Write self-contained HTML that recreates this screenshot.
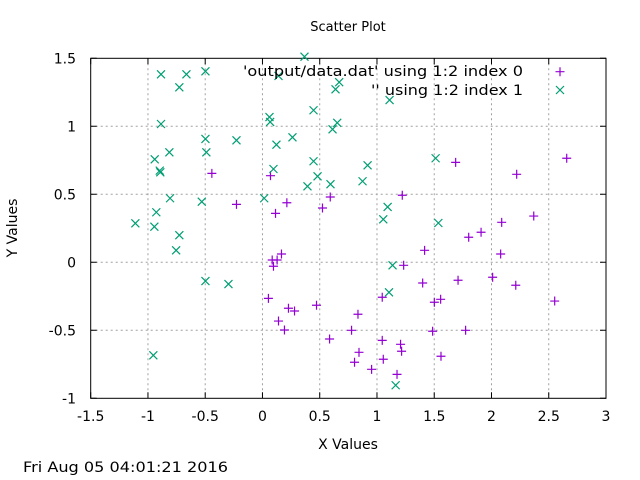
<!DOCTYPE html>
<html><head><meta charset="utf-8"><style>
body{margin:0;background:#fff}
svg{display:block;font-family:"DejaVu Sans","Liberation Sans",sans-serif}
</style></head><body>
<svg id="c" width="640" height="480">
<text x="348" y="31" font-size="13" text-anchor="middle">Scatter Plot</text>
<text x="348" y="449" font-size="14" text-anchor="middle">X Values</text>
<text transform="translate(17,228) rotate(-90)" font-size="14" text-anchor="middle">Y Values</text>
<text x="23" y="472" font-size="14" textLength="205" lengthAdjust="spacingAndGlyphs">Fri Aug 05 04:01:21 2016</text>
<g id="grid"></g>
<g id="axes"></g>
<g id="marks"></g>
<g>
<text x="243" y="76" font-size="14" textLength="280" lengthAdjust="spacingAndGlyphs">'output/data.dat' using 1:2 index 0</text>
<text x="371" y="95" font-size="14" textLength="152" lengthAdjust="spacingAndGlyphs">'' using 1:2 index 1</text>
<path d="M555.5 71.7h9M560 67.2v9" stroke="#9400d3" stroke-width="1.2"/>
<path d="M556 86l8 8M556 94l8-8" stroke="#009e73" stroke-width="1.2"/>
</g>
</svg>
<script>
const xTicks=[-1.5,-1,-0.5,0,0.5,1,1.5,2,2.5,3];
const yTicks=[-1,-0.5,0,0.5,1,1.5];
const xTickLabels=["-1.5","-1","-0.5","0","0.5","1","1.5","2","2.5","3"];
const yTickLabels=["-1","-0.5","0","0.5","1","1.5"];
const s0x=[-0.442,0.070,-0.227,0.114,0.213,0.524,0.592,1.687,2.220,2.657,1.221,2.089,2.369,0.166,0.085,0.128,0.096,0.052,0.227,0.280,0.472,0.140,0.192,0.586,1.801,1.909,1.416,2.080,1.233,1.399,1.708,2.010,2.212,1.046,1.501,1.556,2.552,0.834,0.778,1.486,1.774,1.046,1.206,0.843,1.215,0.804,1.055,1.559,0.953,1.175];
const s0y=[0.654,0.637,0.426,0.360,0.438,0.399,0.480,0.735,0.647,0.765,0.493,0.294,0.340,0.061,0.017,0.017,-0.029,-0.265,-0.338,-0.358,-0.316,-0.432,-0.498,-0.564,0.184,0.221,0.088,0.061,-0.022,-0.152,-0.132,-0.110,-0.169,-0.257,-0.294,-0.272,-0.285,-0.382,-0.500,-0.507,-0.500,-0.574,-0.603,-0.662,-0.654,-0.735,-0.713,-0.691,-0.787,-0.824];
const s1x=[-0.886,-0.664,-0.498,-0.726,0.367,0.140,0.670,0.638,0.446,0.061,0.067,-0.886,0.653,0.612,-0.498,-0.227,0.262,0.122,-0.813,-0.490,-0.941,-0.897,-0.892,0.446,0.096,0.481,0.393,0.594,-0.807,-0.530,0.015,-0.927,-1.110,-0.944,1.110,0.918,0.874,1.512,1.093,1.055,1.536,-0.726,-0.754,-0.498,-0.297,-0.953,1.136,1.105,1.163];
const s1y=[1.382,1.382,1.404,1.287,1.512,1.370,1.324,1.272,1.118,1.068,1.032,1.017,1.026,0.978,0.907,0.897,0.919,0.865,0.809,0.809,0.757,0.674,0.662,0.743,0.686,0.632,0.559,0.574,0.471,0.446,0.471,0.368,0.287,0.262,1.193,0.713,0.596,0.765,0.407,0.316,0.289,0.199,0.088,-0.138,-0.160,-0.684,-0.022,-0.221,-0.904];
const L=90.7,R=606,T=58.3,B=398.3;
const X=v=>L+(v+1.5)/4.5*(R-L);
const Y=v=>B-(v+1)/2.5*(B-T);
const NS="http://www.w3.org/2000/svg";
function mk(tag,attrs,parent){const e=document.createElementNS(NS,tag);for(const k in attrs)e.setAttribute(k,attrs[k]);parent.appendChild(e);return e;}
const grid=document.getElementById('grid'),axes=document.getElementById('axes'),marks=document.getElementById('marks');
xTicks.forEach((t,i)=>{const x=X(t);
 if(i>0&&i<xTicks.length-1){const g=mk('line',{x1:x,x2:x,y1:T,y2:B,stroke:'#a0a0a0','stroke-dasharray':'2,3'},grid);
 
 }
 const tk=mk('path',{d:`M${x} ${B}v-6M${x} ${T}v6`,stroke:'#000'},axes);
 
 
 const lb=mk('text',{x:x,y:421,'font-size':14,'text-anchor':'middle'},axes);lb.textContent=xTickLabels[i];
 
 
});
yTicks.forEach((t,i)=>{const y=Y(t);
 if(i>0&&i<yTicks.length-1){const g=mk('line',{x1:L,x2:R,y1:y,y2:y,stroke:'#a0a0a0','stroke-dasharray':'2,3'},grid);
 
 }
 const tk=mk('path',{d:`M${L} ${y}h6M${R} ${y}h-6`,stroke:'#000'},axes);
 
 
 const lb=mk('text',{x:76,y:y+5,'font-size':14,'text-anchor':'end'},axes);lb.textContent=yTickLabels[i];
 
 
});
const fr=mk('rect',{x:L,y:T,width:R-L,height:B-T,fill:'none',stroke:'#000'},axes);


s0x.forEach((v,i)=>{const x=X(v),y=Y(s0y[i]);
 const p=mk('path',{d:`M${x-4.5} ${y}h9M${x} ${y-4.5}v9`,stroke:'#9400d3','stroke-width':1.2},marks);
 
 
});
s1x.forEach((v,i)=>{const x=X(v),y=Y(s1y[i]);
 const p=mk('path',{d:`M${x-4} ${y-4}l8 8M${x-4} ${y+4}l8-8`,stroke:'#009e73','stroke-width':1.2},marks);
 
 
});
</script>
</body></html>
